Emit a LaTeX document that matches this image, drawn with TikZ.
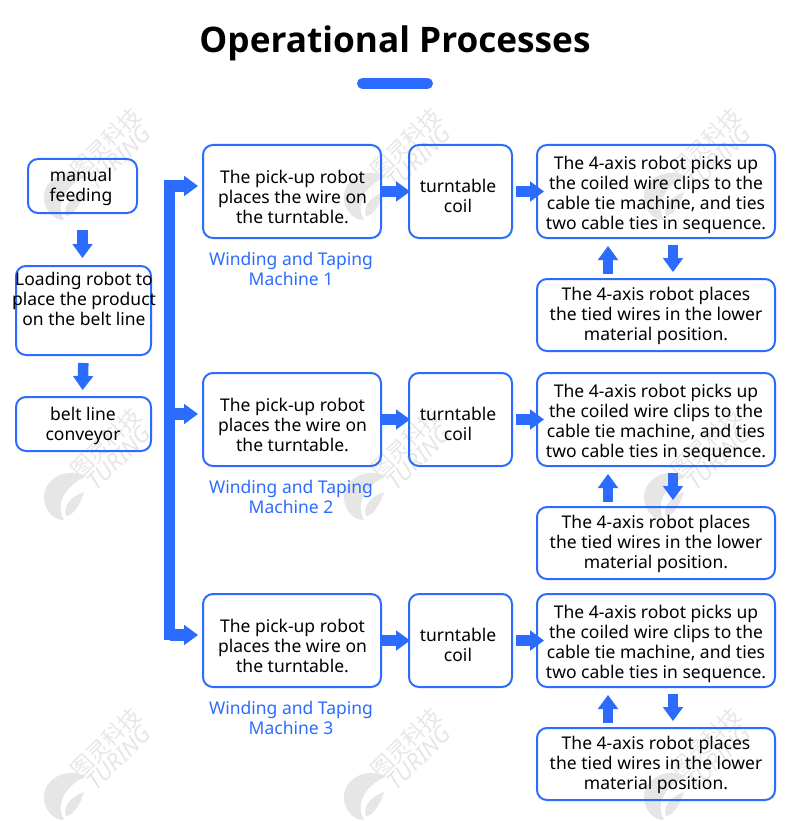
\documentclass[tikz,border=0pt]{standalone}
\usepackage{fontspec}
\setmainfont{Noto Sans}
\newfontfamily\cjk{Noto Sans CJK SC}
\newfontfamily\titlefont{Open Sans}
\usetikzlibrary{arrows.meta}

\definecolor{flowblue}{HTML}{2B6CFF}
\definecolor{markgray}{HTML}{E6E6E6}

\begin{document}
\begin{tikzpicture}[
  x=1pt, y=-1pt,
  every node/.style={font=\fontsize{17.5}{20}\selectfont, inner sep=0pt, align=center},
  flowbox/.style={rectangle, draw=flowblue, line width=2pt, rounded corners=10pt},
  machine/.style={text=flowblue},
  blockarrow/.style={draw=flowblue, line width=10.5pt,
                     -{Triangle[length=14pt, width=20.5pt, line width=0pt]}},
  markcn/.style={text=markgray, rotate=45, font=\cjk\fontsize{22}{22}\selectfont},
  markla/.style={text=markgray, rotate=45, font=\fontsize{23}{23}\selectfont\itshape}
]
\useasboundingbox (0,0) rectangle (790,821);

% watermark
\foreach \xx in {0,300,600} {
  \foreach \yy in {0,300,600} {
    \begin{scope}[shift={(\xx,\yy)}]
      \node[markcn] (markCn\xx\yy) at (106,143) {图灵科技};
      \node[markla] (markLa\xx\yy) at (119,158) {TURING};
      \fill[markgray] (86,176) .. controls (62,166) and (42,182) .. (44,200)
        .. controls (46,212) and (54,220) .. (64,220)
        .. controls (56,206) and (62,188) .. (86,176) -- cycle;
      \fill[markgray] (84,192) .. controls (72,196) and (62,206) .. (66,216)
        .. controls (72,216) and (80,206) .. (84,192) -- cycle;
    \end{scope}
  }
}

% title
\node[font=\titlefont\bfseries\fontsize{35.2}{40}\selectfont] (title) at (395,43) {Operational Processes};
\draw[flowblue, line width=11pt, line cap=round] (362.5,83.5) coordinate (barL) -- (427.5,83.5) coordinate (barR);

% feeding column
\node[flowbox, minimum width=109pt, minimum height=54pt] (feed) at (82.5,186) {};
\node (feedText) at (81,187) {manual\\feeding};
\node[flowbox, minimum width=135pt, minimum height=89pt] (load) at (83.5,310.5) {};
\node (loadText) at (84,299) {Loading robot to\\place the product\\on the belt line};
\node[flowbox, minimum width=135pt, minimum height=54pt] (belt) at (83.5,424) {};
\node (beltText) at (83,425.5) {belt line\\conveyor};

\draw[blockarrow, shorten <=16pt, shorten >=7pt] (feed.south) -- ([xshift=-1pt]load.north);
\draw[blockarrow, shorten <=7pt, shorten >=6pt] (load.south) -- ([xshift=-1pt]belt.north);

% bus
\coordinate (busTop) at (169.5,180);
\coordinate (busEnd) at (169.5,640);
\draw[flowblue, line width=11pt] (busTop) -- (busEnd);

% machines
\foreach \n/\yy in {1/0, 2/228, 3/449} {
  \begin{scope}[yshift=-\yy pt]
    \node[flowbox, minimum width=178pt, minimum height=93pt] (pick\n) at (292,191.5) {};
    \node (pickText\n) at (292.5,196.5) {The pick-up robot\\places the wire on\\the turntable.};
    \node[flowbox, minimum width=103pt, minimum height=93pt] (turn\n) at (460.5,191.5) {};
    \node (turnText\n) at (458,195.5) {turntable\\coil};
    \node[flowbox, minimum width=238pt, minimum height=93pt] (tie\n) at (656,191.5) {};
    \node (tieText\n) at (656,194.5) {The 4-axis robot picks up\\the coiled wire clips to the\\cable tie machine, and ties\\two cable ties in sequence.};
    \node[flowbox, minimum width=238pt, minimum height=72pt] (place\n) at (656,315) {};
    \node (placeText\n) at (656,315.5) {The 4-axis robot places\\the tied wires in the lower\\material position.};
    \node[machine] (label\n) at (291,269) {Winding and Taping\\Machine \n};

    \coordinate (busOut\n) at (169.5,186);
    \draw[blockarrow, line width=12pt, shorten >=4pt] (busOut\n) -- (pick\n.west |- busOut\n);
    \draw[blockarrow, shorten >=-2pt] (pick\n.east) -- (turn\n.west);
    \draw[blockarrow, shorten <=3pt, shorten >=-8pt] (turn\n.east) -- (tie\n.west);
    \draw[blockarrow, shorten <=4pt, shorten >=7pt] ([xshift=-48pt]place\n.north) -- ([xshift=-48pt]tie\n.south);
    \draw[blockarrow, shorten <=6pt, shorten >=6pt] ([xshift=17pt]tie\n.south) -- ([xshift=17pt]place\n.north);
  \end{scope}
}
\end{tikzpicture}
\end{document}
